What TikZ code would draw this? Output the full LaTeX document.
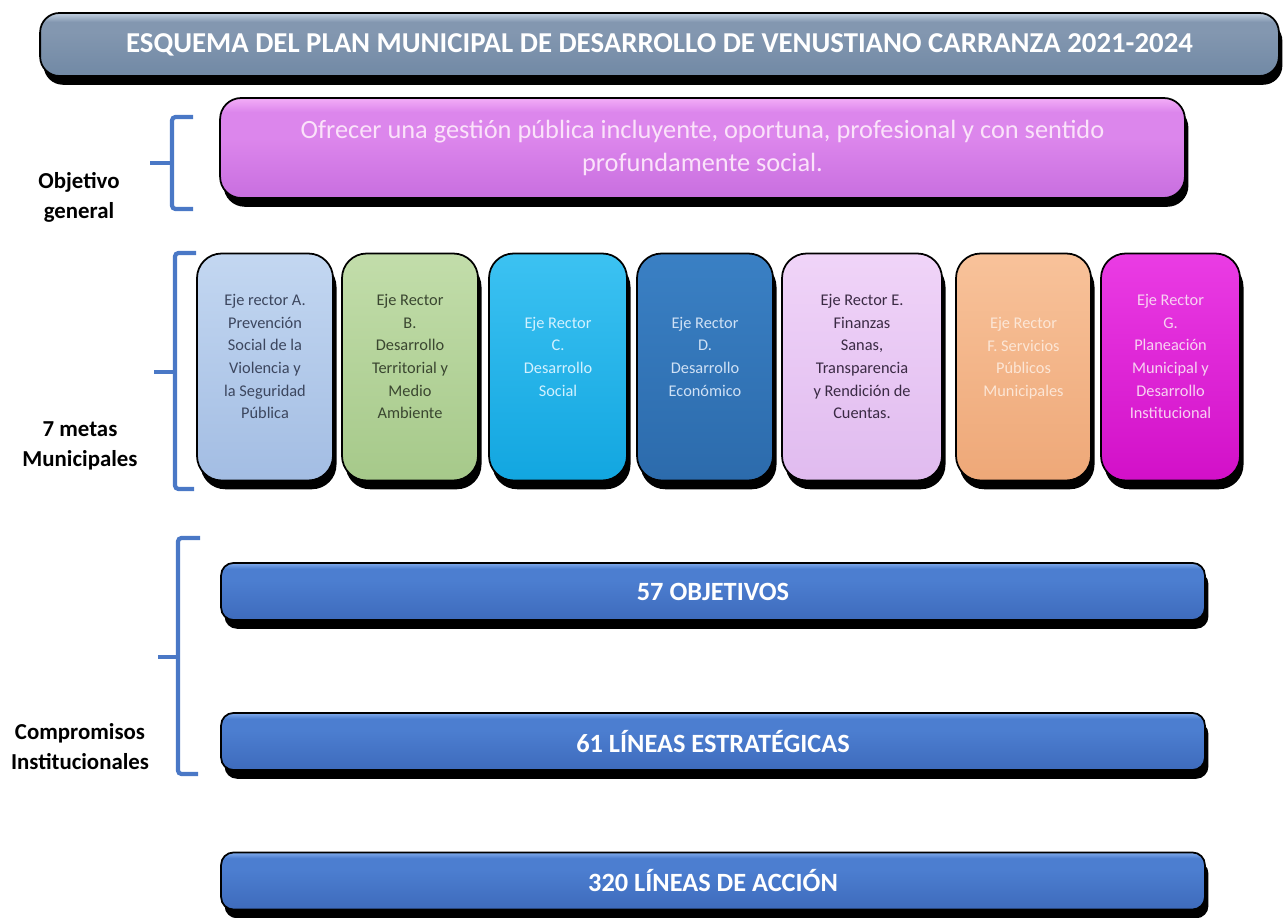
\documentclass[tikz,border=0pt]{standalone}
\usepackage{fontspec}
\setmainfont{Carlito}
\usetikzlibrary{shadows}
\definecolor{titT}{HTML}{B9C8DA}
\definecolor{titM}{HTML}{8397B0}
\definecolor{titB}{HTML}{7189A5}
\definecolor{purT}{HTML}{F0A8F6}
\definecolor{purM}{HTML}{DC86EC}
\definecolor{purB}{HTML}{C86EDF}
\definecolor{purTx}{HTML}{FBE2FA}
\definecolor{barT}{HTML}{8AB4F2}
\definecolor{barM}{HTML}{4C7ED0}
\definecolor{barB}{HTML}{3E6BBC}
\definecolor{brk}{HTML}{4A78C6}
\definecolor{aT}{HTML}{C3D7F1}\definecolor{aB}{HTML}{A3BDE3}\definecolor{aTx}{HTML}{3C465E}
\definecolor{bT}{HTML}{C2DDAA}\definecolor{bB}{HTML}{A6C98A}\definecolor{bTx}{HTML}{3A4630}
\definecolor{cT}{HTML}{3CC2F2}\definecolor{cB}{HTML}{12A6E0}\definecolor{cTx}{HTML}{D2F1FF}
\definecolor{dT}{HTML}{3A80C4}\definecolor{dB}{HTML}{2C6BAC}\definecolor{dTx}{HTML}{CFE1F5}
\definecolor{eT}{HTML}{F0D4F8}\definecolor{eB}{HTML}{E0BBEF}\definecolor{eTx}{HTML}{3A2A44}
\definecolor{fT}{HTML}{F8C29A}\definecolor{fB}{HTML}{EEA878}\definecolor{fTx}{HTML}{FCE6D6}
\definecolor{gT}{HTML}{EA3CE4}\definecolor{gB}{HTML}{D210C8}\definecolor{gTx}{HTML}{F8D2F2}
\pgfdeclareverticalshading{barsh}{100bp}{color(0bp)=(barB); color(25bp)=(barB); color(60bp)=(barM); color(70bp)=(barM); color(76bp)=(barT); color(100bp)=(barT)}
\pgfdeclareverticalshading{titsh}{100bp}{color(0bp)=(titB); color(25bp)=(titB); color(60bp)=(titM); color(68bp)=(titM); color(74bp)=(titT); color(100bp)=(titT)}
\pgfdeclareverticalshading{pursh}{100bp}{color(0bp)=(purB); color(25bp)=(purB); color(55bp)=(purM); color(68bp)=(purM); color(74bp)=(purT); color(100bp)=(purT)}
\begin{document}
\begin{tikzpicture}[x=0.02cm,y=-0.02cm,
  panel/.style={rounded corners=#1, draw=black, line width=1pt,
    general shadow={fill=black, shadow xshift=2pt, shadow yshift=-5pt}},
  titlebar/.style={panel=11pt, shading=titsh,
    minimum width=24.78cm, minimum height=1.26cm, text=white,
    font=\bfseries\fontsize{16.4}{19}\selectfont},
  goalbox/.style={panel=12pt, shading=pursh,
    minimum width=19.3cm, minimum height=2cm, text=purTx, align=center,
    font=\fontsize{15}{18.5}\selectfont},
  bar/.style={panel=7pt, shading=barsh,
    minimum width=19.68cm, minimum height=1.14cm, text=white,
    font=\bfseries\fontsize{15}{18}\selectfont},
  axis/.style={panel=14pt, minimum height=4.54cm, top color=#1T, bottom color=#1B},
  axtxt/.style={align=center, inner sep=0pt, font=\fontsize{9.3}{12.9}\selectfont},
  lbl/.style={align=center, inner sep=0pt, font=\bfseries\fontsize{13}{17}\selectfont},
  brace/.style={draw=brk, line width=2.4pt, rounded corners=2pt}]
\useasboundingbox (0,0) rectangle (1285,918);

% title
\node[titlebar] (title) at (659.5,44.5) {ESQUEMA DEL PLAN MUNICIPAL DE DESARROLLO DE VENUSTIANO CARRANZA 2021-2024};

% objetivo general
\node[goalbox] (goal) at (702.5,148) {Ofrecer una gestión pública incluyente, oportuna, profesional y con sentido\\profundamente social.};

% seven axes
\node[axis=a, minimum width=2.72cm] (A) at (265,367) {};
\node[axis=b, minimum width=2.72cm] (B) at (410,367) {};
\node[axis=c, minimum width=2.76cm] (C) at (558,367) {};
\node[axis=d, minimum width=2.72cm] (D) at (705,367) {};
\node[axis=e, minimum width=3.2cm]  (E) at (862,367) {};
\node[axis=f, minimum width=2.7cm]  (F) at (1023.5,367) {};
\node[axis=g, minimum width=2.78cm] (G) at (1170.5,367) {};

\node[axtxt, text=aTx] (tA) at ([yshift=6pt]A.center) {Eje rector A.\\Prevención\\Social de la\\Violencia y\\la Seguridad\\Pública};
\node[axtxt, text=bTx] (tB) at ([yshift=6pt]B.center) {Eje Rector\\B.\\Desarrollo\\Territorial y\\Medio\\Ambiente};
\node[axtxt, text=cTx] (tC) at ([yshift=6pt]C.center) {Eje Rector\\C.\\Desarrollo\\Social};
\node[axtxt, text=dTx] (tD) at ([yshift=6pt]D.center) {Eje Rector\\D.\\Desarrollo\\Económico};
\node[axtxt, text=eTx] (tE) at ([yshift=6pt]E.center) {Eje Rector E.\\Finanzas\\Sanas,\\Transparencia\\y Rendición de\\Cuentas.};
\node[axtxt, text=fTx] (tF) at ([yshift=5pt]F.center) {Eje Rector\\F. Servicios\\Públicos\\Municipales};
\node[axtxt, text=gTx] (tG) at ([yshift=6pt]G.center) {Eje Rector\\G.\\Planeación\\Municipal y\\Desarrollo\\Institucional};

% bars
\node[bar] (obj) at (713,591.5) {57 OBJETIVOS};
\node[bar] (lin) at (713,741.5) {61 LÍNEAS ESTRATÉGICAS};
\node[bar] (acc) at (713,881) {320 LÍNEAS DE ACCIÓN};

% left labels
\node[lbl] (lgoal) at (79,197) {Objetivo\\general};
\node[lbl] (lmetas) at (80,446) {7 metas\\Municipales};
\node[lbl] (lcomp) at (80,747) {Compromisos\\Institucionales};

% brackets
\coordinate (b1t) at (193,117); \coordinate (b1b) at (193,209); \coordinate (b1m) at (150,163);
\draw[brace] (b1t) -- (172,117) -- (172,209) -- (b1b);
\draw[brace] (b1m) -- (172,163);
\coordinate (b2t) at (196,253); \coordinate (b2b) at (194,489); \coordinate (b2m) at (154,372);
\draw[brace] (b2t) -- (175,253) -- (175,489) -- (b2b);
\draw[brace] (b2m) -- (175,372);
\coordinate (b3t) at (200,538); \coordinate (b3b) at (198,774); \coordinate (b3m) at (158,657);
\draw[brace] (b3t) -- (178,538) -- (178,774) -- (b3b);
\draw[brace] (b3m) -- (178,657);
\end{tikzpicture}
\end{document}
